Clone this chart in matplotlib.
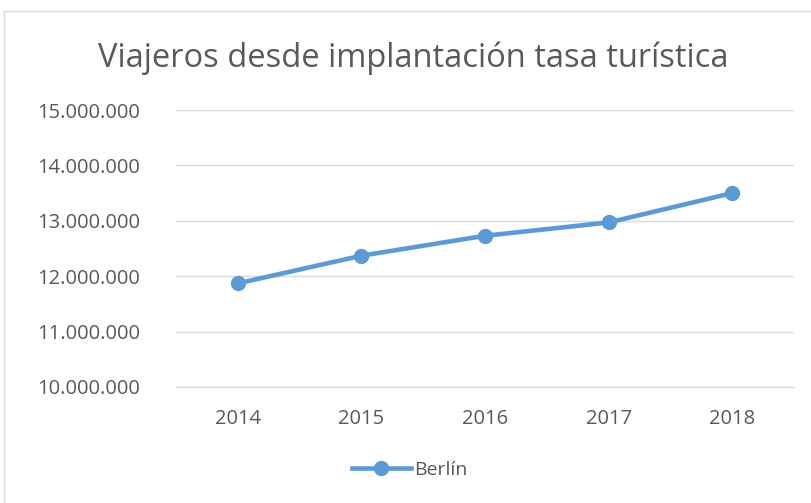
import matplotlib.pyplot as plt
from matplotlib.patches import Rectangle
from matplotlib.ticker import FuncFormatter

years = ["2014", "2015", "2016", "2017", "2018"]
berlin = [11870000, 12370000, 12730000, 12970000, 13500000]

plt.rcParams['font.family'] = ['Open Sans', 'DejaVu Sans']
gray = '#595959'
blue = '#5B9BD5'

fig = plt.figure(figsize=(8.11, 5.03), dpi=100)
# chart border
fig.patches.append(Rectangle((4 / 811, -0.05), 1.05, 1 - 11 / 503 + 0.05, transform=fig.transFigure,
                             fill=False, edgecolor='#D9D9D9', linewidth=1))

ax = fig.add_axes([176 / 811, 1 - 387 / 503, (794 - 176) / 811, (387 - 110) / 503])
x = range(len(years))
ax.plot(x, berlin, color=blue, linewidth=3.3, marker='o', markersize=10, label='Berlín')

ax.set_xlim(-0.5, len(years) - 0.5)
ax.set_ylim(10000000, 15000000)
ax.set_yticks(range(10000000, 15000001, 1000000))
ax.yaxis.set_major_formatter(FuncFormatter(lambda v, p: f"{int(v):,}".replace(",", ".")))
ax.set_xticks(list(x))
ax.set_xticklabels(years)
ax.grid(axis='y', color='#D9D9D9', linewidth=1)
ax.set_axisbelow(True)
for s in ['top', 'right', 'left']:
    ax.spines[s].set_visible(False)
ax.spines['bottom'].set_color('#D9D9D9')
ax.tick_params(length=0, labelsize=14.5, colors=gray)
ax.tick_params(axis='y', pad=26)
ax.tick_params(axis='x', pad=16)

fig.text(413 / 811, 1 - 58 / 503, 'Viajeros desde implantación tasa turística', ha='center', va='center',
         fontsize=23.5, color=gray)
fig.legend(loc='center', bbox_to_anchor=(410 / 811, 1 - 470 / 503), frameon=False, fontsize=14,
           labelcolor=gray, handlelength=3, handletextpad=0.2)

fig.savefig('out.png', dpi=100)
